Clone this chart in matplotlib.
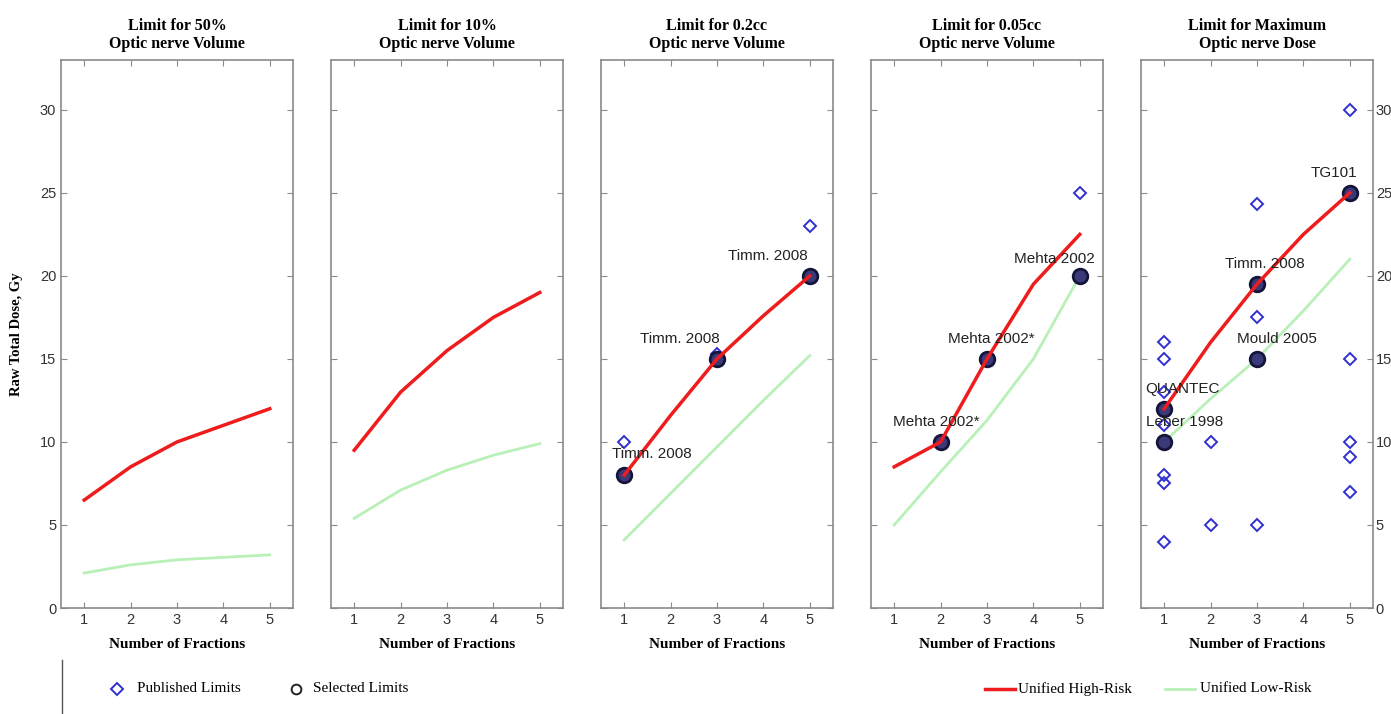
import matplotlib
matplotlib.use("Agg")
import matplotlib.pyplot as plt
from matplotlib.lines import Line2D

fractions = [1, 2, 3, 4, 5]
titles = ["Limit for 50%\nOptic nerve Volume",
          "Limit for 10%\nOptic nerve Volume",
          "Limit for 0.2cc\nOptic nerve Volume",
          "Limit for 0.05cc\nOptic nerve Volume",
          "Limit for Maximum\nOptic nerve Dose"]

high_risk = [
    [6.5, 8.5, 10.0, 11.0, 12.0],
    [9.5, 13.0, 15.5, 17.5, 19.0],
    [8.0, 11.6, 15.0, 17.6, 20.0],
    [8.5, 10.0, 15.0, 19.5, 22.5],
    [12.0, 16.0, 19.5, 22.5, 25.0],
]
low_risk = [
    [2.1, 2.6, 2.9, 3.05, 3.2],
    [5.4, 7.1, 8.3, 9.2, 9.9],
    [4.1, 6.9, 9.7, 12.5, 15.2],
    [5.0, 8.2, 11.3, 15.0, 20.0],
    [10.0, 12.6, 15.0, 17.9, 21.0],
]

published_x = [
    [], [],
    [1, 3, 5],
    [2, 3, 5],
    [1, 1, 1, 1, 1, 1, 1, 1, 1, 2, 2, 3, 3, 3, 3, 3, 5, 5, 5, 5, 5, 5],
]
published_y = [
    [], [],
    [10.0, 15.3, 23.0],
    [10.0, 15.0, 25.0],
    [16.0, 15.0, 13.0, 12.0, 11.0, 10.0, 8.0, 7.5, 4.0, 10.0, 5.0,
     24.3, 19.5, 17.5, 15.0, 5.0, 30.0, 25.0, 15.0, 10.0, 9.1, 7.0],
]

selected_x = [[], [], [1, 3, 5], [2, 3, 5], [1, 1, 3, 3, 5]]
selected_y = [[], [], [8.0, 15.0, 20.0], [10.0, 15.0, 20.0],
              [12.0, 10.0, 19.5, 15.0, 25.0]]

labels = [
    [], [],
    [("Timm. 2008", 1.6, 9.3), ("Timm. 2008", 2.2, 16.2), ("Timm. 2008", 4.1, 21.2)],
    [("Mehta 2002*", 1.9, 11.2), ("Mehta 2002*", 3.1, 16.2), ("Mehta 2002", 4.45, 21.0)],
    [("QUANTEC", 1.4, 13.2), ("Leber 1998", 1.45, 11.2), ("Timm. 2008", 3.18, 20.7),
     ("Mould 2005", 3.44, 16.2), ("TG101", 4.65, 26.2)],
]

W, H = 1391, 714
fig = plt.figure(figsize=(W / 100, H / 100), dpi=100)

serif = ["Liberation Serif", "DejaVu Serif"]
sans = ["Liberation Sans", "DejaVu Sans"]

lefts = [61, 331, 601, 871, 1141]
ax_w, top, bot = 232, 60, 608
red = "#ee1c1c"
green = "#b8f0b8"
blue = "#3030d0"
spine_c = "#8a8a8a"

for i in range(5):
    ax = fig.add_axes([lefts[i] / W, 1 - bot / H, ax_w / W, (bot - top) / H])
    ax.set_xlim(0.5, 5.5)
    ax.set_ylim(0, 33)
    ax.set_xticks(fractions)
    ax.set_yticks([0, 5, 10, 15, 20, 25, 30])
    ax.tick_params(direction="in", top=True, right=True, length=4,
                   color=spine_c, labelsize=10.5, labelcolor="#333333",
                   labelfontfamily=sans[0])
    if i == 0:
        ax.tick_params(labelleft=True, labelright=False)
        ax.set_ylabel("Raw Total Dose, Gy", family=serif, fontweight="bold",
                      fontsize=10.5, labelpad=12)
    elif i == 4:
        ax.tick_params(labelleft=False, labelright=True)
        ax.tick_params(axis="y", pad=2)
    else:
        ax.tick_params(labelleft=False, labelright=False)
    for s in ax.spines.values():
        s.set_color(spine_c)
        s.set_linewidth(1.2)
    ax.set_title(titles[i], family=serif, fontweight="bold", fontsize=11.5,
                 linespacing=1.15, pad=9)
    ax.set_xlabel("Number of Fractions", family=serif, fontweight="bold",
                  fontsize=11, labelpad=8)

    ax.plot(fractions, low_risk[i], color=green, lw=2, zorder=2)
    if published_x[i]:
        ax.plot(published_x[i], published_y[i], linestyle="none", marker="D",
                markersize=6, markerfacecolor="none", markeredgecolor=blue,
                markeredgewidth=1.4, zorder=3)
    if selected_x[i]:
        ax.plot(selected_x[i], selected_y[i], linestyle="none", marker="o",
                markersize=10.5, markerfacecolor="#3a3a7a", markeredgecolor="#15153a",
                markeredgewidth=2, zorder=4)
    ax.plot(fractions, high_risk[i], color=red, lw=2.5, zorder=5)
    for txt, tx, ty in labels[i]:
        ax.text(tx, ty, txt, ha="center", va="center", family=sans,
                fontsize=11, color="#222222", zorder=6)

# legends
ly = 1 - 689 / H
fig.add_artist(Line2D([117 / W], [ly], linestyle="none", marker="D",
                      markersize=6, markerfacecolor="none",
                      markeredgecolor=blue, markeredgewidth=1.4))
fig.text(137 / W, ly, "Published Limits", family=serif, fontsize=11,
         va="center")
fig.add_artist(Line2D([296 / W], [ly], linestyle="none", marker="o",
                      markersize=7, markerfacecolor="none",
                      markeredgecolor="#222222", markeredgewidth=1.4))
fig.text(313 / W, ly, "Selected Limits", family=serif, fontsize=11,
         va="center")
fig.add_artist(Line2D([985 / W, 1015 / W], [ly, ly], color=red, lw=2.5))
fig.text(1018 / W, ly, "Unified High-Risk", family=serif, fontsize=11,
         va="center")
fig.add_artist(Line2D([1165 / W, 1195 / W], [ly, ly], color=green, lw=2))
fig.text(1200 / W, ly, "Unified Low-Risk", family=serif, fontsize=11,
         va="center")
fig.add_artist(Line2D([62 / W, 62 / W], [0, 1 - 660 / H], color="#555555", lw=1))

fig.savefig("out.png", dpi=100)
